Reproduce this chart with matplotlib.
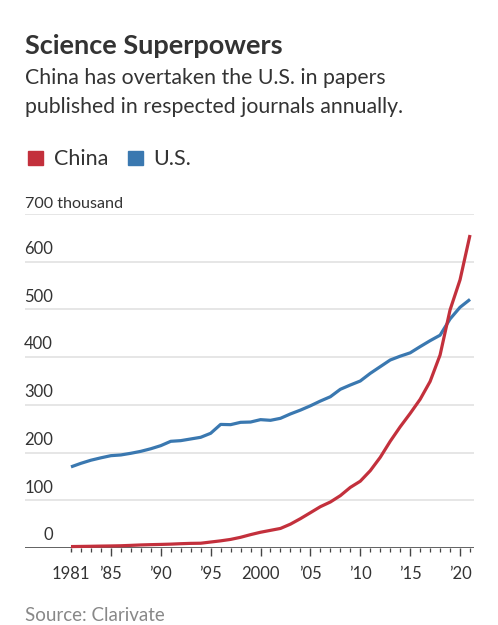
import matplotlib
matplotlib.use("Agg")
import matplotlib.pyplot as plt
import matplotlib.transforms as mtransforms

plt.rcParams['font.family'] = ['Lato', 'DejaVu Sans']

years = list(range(1981, 2022))
china = [3, 3.3, 3.6, 4, 4.3, 4.7, 5.5, 6.4, 7, 7.5,
         8.1, 9, 9.7, 10, 12.5, 15, 18, 22.4, 28, 33,
         37, 41, 50, 61.5, 74, 86.6, 96.4, 109.7, 127, 140,
         162, 190, 223.6, 254, 282, 311.6, 349, 404.5, 499, 562, 656]
us = [170, 177.5, 184, 189, 193.5, 195, 198.5, 202.6, 208, 214.5,
      223.6, 225, 228.5, 232, 240.4, 259, 258.5, 263.4, 264, 269,
      267.6, 271.8, 281, 289, 298, 308, 317, 332.6, 341.6, 350,
      366, 380, 394, 402, 409, 422, 434.5, 446, 480, 504.5, 521]

y_ticks = [0, 100, 200, 300, 400, 500, 600, 700]
x_ticks = [1981, 1985, 1990, 1995, 2000, 2005, 2010, 2015, 2020]
x_labels = ['1981', '\u201985', '\u201990', '\u201995', '2000', '\u201905', '\u201910', '\u201915', '\u201920']

red = '#c3303c'
blue = '#3a78b0'
text_col = '#333333'

W, H = 498, 625
fig = plt.figure(figsize=(W / 100, H / 100), dpi=100)
ax = fig.add_axes([25 / W, 1 - 548 / H, 449 / W, 334 / H])

ax.set_xlim(1976.39, 2021.4)
ax.set_ylim(0, 700)

for v in y_ticks[1:]:
    ax.axhline(v, color='#e4e4e4', lw=1.3, zorder=1)
ax.axhline(0, color='#555555', lw=1.3, zorder=3)

ax.plot(years, us, color=blue, lw=2.3, zorder=4, clip_on=False, solid_capstyle='butt')
ax.plot(years, china, color=red, lw=2.3, zorder=5, clip_on=False, solid_capstyle='butt')

for s in ax.spines.values():
    s.set_visible(False)
ax.set_yticks([])
ax.set_xticks(x_ticks)
ax.set_xticklabels(x_labels)
ax.set_xticks(years, minor=True)
ax.tick_params(axis='x', which='major', length=6, width=1, color='#444444',
               labelsize=12, labelcolor=text_col, pad=7)
ax.tick_params(axis='x', which='minor', length=3, width=0.9, color='#444444')
# 1981 only gets a short tick
ax.xaxis.get_major_ticks()[0].tick1line.set_markersize(3)

trans = mtransforms.blended_transform_factory(ax.transAxes, ax.transData)
for v in y_ticks:
    if v == 700:
        ax.text(0, v + 6, '700 thousand', transform=trans, ha='left', va='bottom',
                fontsize=11.6, color=text_col)
    else:
        ax.text(28 / 449, v + 10, str(v), transform=trans, ha='right', va='bottom',
                fontsize=12, color=text_col)

fig.text(25 / W, 1 - 54 / H, 'Science Superpowers', fontsize=19.5, fontweight='bold',
         color=text_col, va='baseline')
fig.text(25 / W, 1 - 84 / H, 'China has overtaken the U.S. in papers', fontsize=15.3,
         color=text_col, va='baseline')
fig.text(25 / W, 1 - 113 / H, 'published in respected journals annually.', fontsize=15.3,
         color=text_col, va='baseline')

# legend
fig.patches.append(plt.Rectangle((28 / W, 1 - 165 / H), 15 / W, 14 / H, transform=fig.transFigure,
                                 color=red, figure=fig))
fig.text(54 / W, 1 - 165 / H, 'China', fontsize=15.5, color=text_col, va='baseline')
fig.patches.append(plt.Rectangle((128 / W, 1 - 165 / H), 15 / W, 14 / H, transform=fig.transFigure,
                                 color=blue, figure=fig))
fig.text(153 / W, 1 - 165 / H, 'U.S.', fontsize=15.5, color=text_col, va='baseline')

fig.text(25 / W, 1 - 621 / H, 'Source: Clarivate', fontsize=13.5, color='#888888', va='baseline')

fig.savefig('out.png', dpi=100)
